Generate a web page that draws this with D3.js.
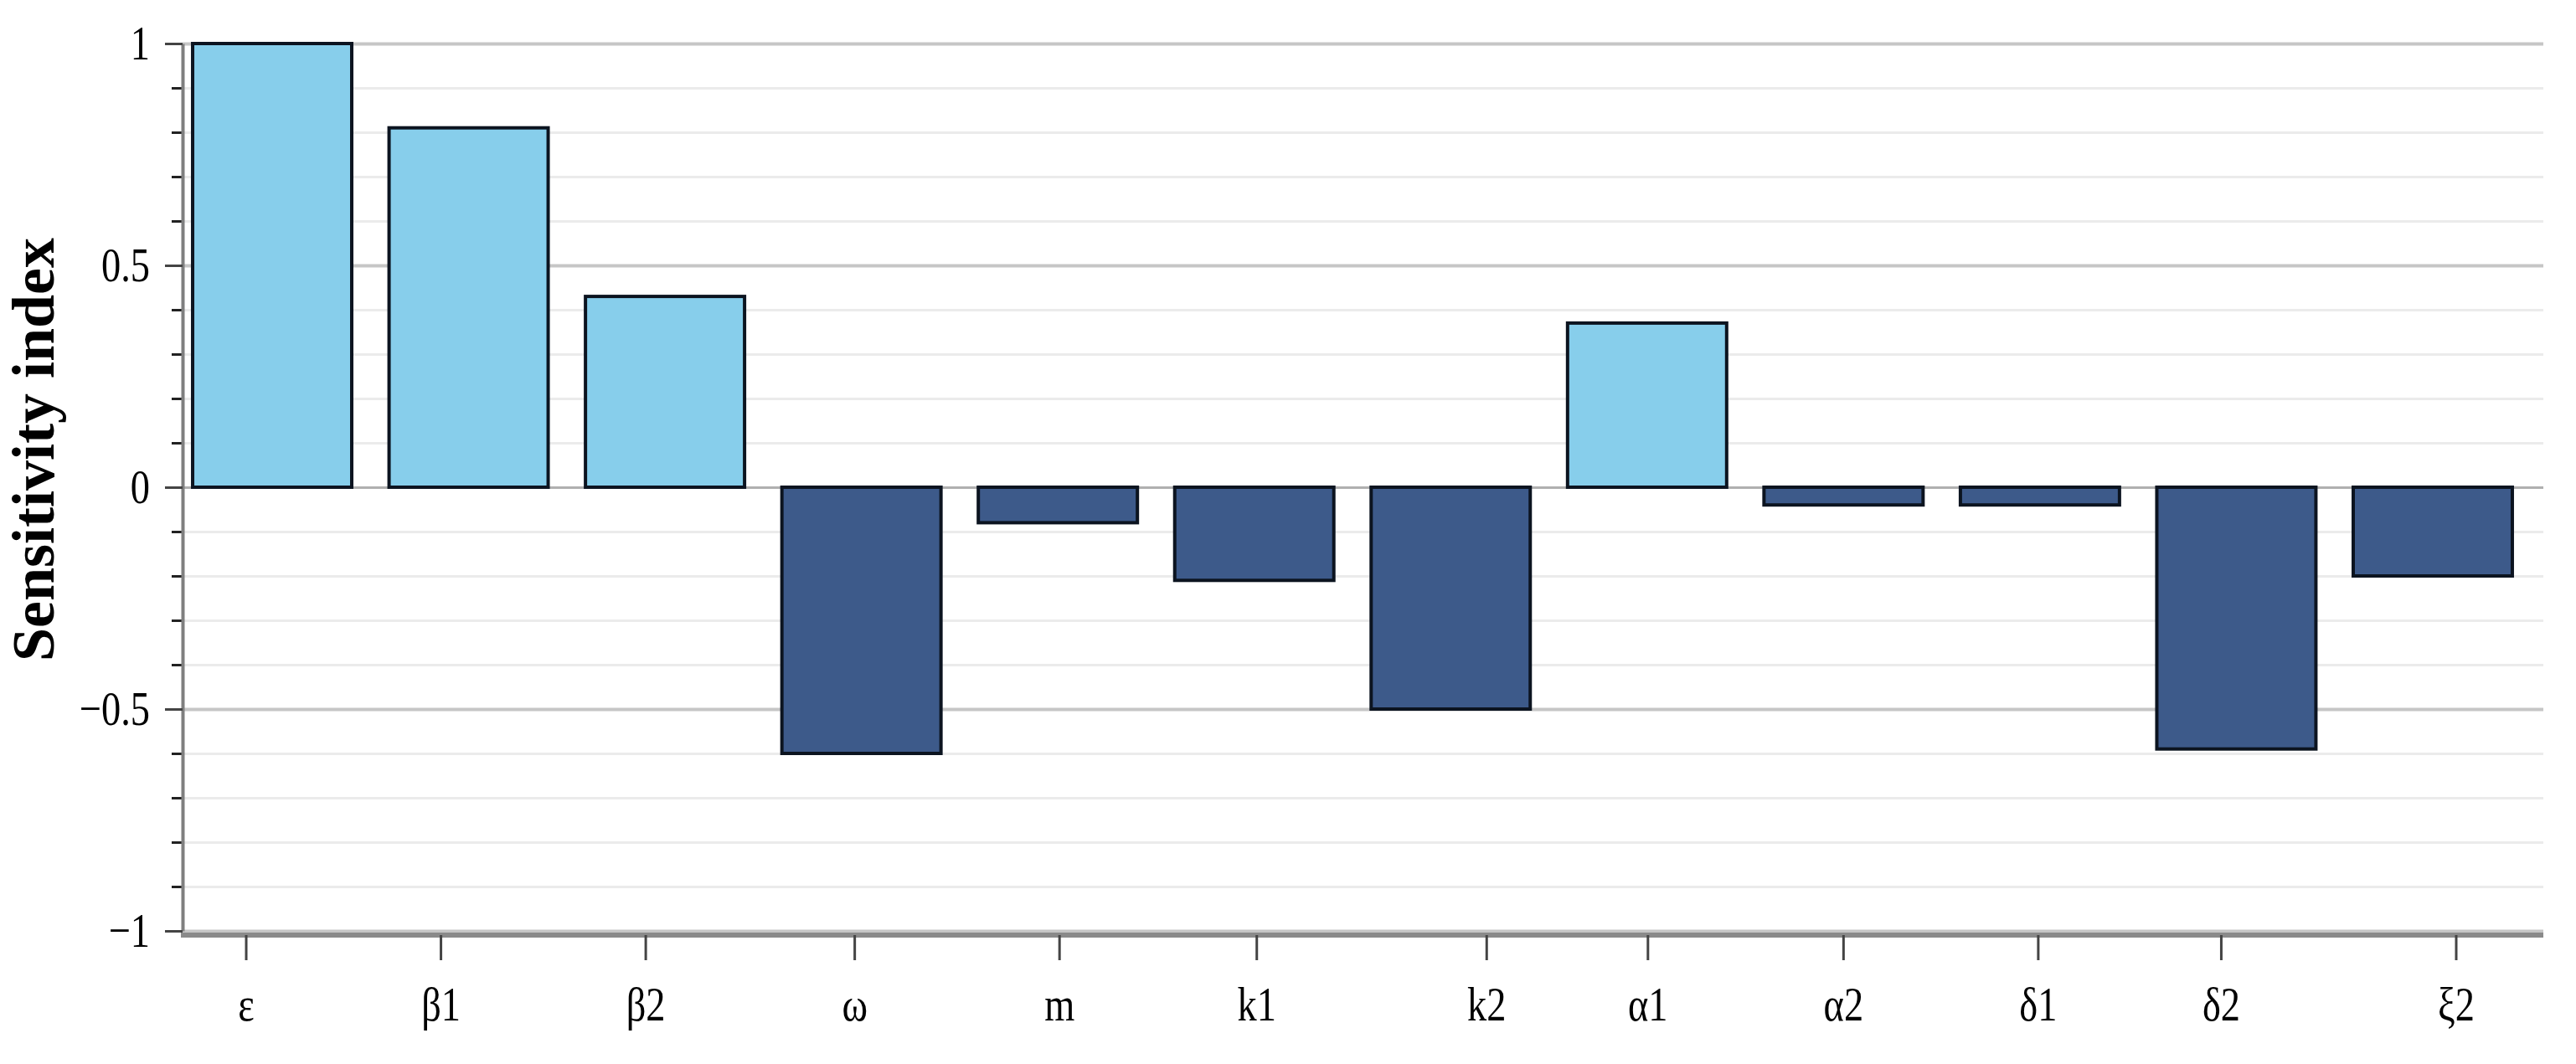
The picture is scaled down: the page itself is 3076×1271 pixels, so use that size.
<!DOCTYPE html>
<html>
<head>
<meta charset="utf-8">
<script src="https://cdn.jsdelivr.net/npm/d3@7"></script>
<style>
  body { margin: 0; background: #fff; }
  svg { display: block; }
  text { font-family: "Liberation Serif", "DejaVu Serif", serif; fill: #000; }
</style>
</head>
<body>
<svg id="chart"></svg>
<script>
// Data
const params = ["ε", "β1", "β2", "ω", "m", "k1", "k2", "α1", "α2", "δ1", "δ2", "ξ2"];
const sensitivity = [1.0, 0.81, 0.43, -0.6, -0.08, -0.21, -0.5, 0.37, -0.04, -0.04, -0.59, -0.2];
const yTickValues = [-1, -0.5, 0, 0.5, 1];
const yTickLabels = ["−1", "−0.5", "0", "0.5", "1"];
const yTitle = "Sensitivity index";

// the category labels in the source sit a little off the bar centres
const labelNudge = [-31, -33, -23, -8, 2, 3, 43, 1, 0, -2, -18, 28];

const W = 3076, H = 1271;
const plot = { left: 218, right: 3037, top: 52, bottom: 1112 };
const squeeze = 0.8; // tick labels look horizontally condensed

const svg = d3.select("#chart").attr("width", W).attr("height", H);

const x = d3.scaleBand()
  .domain(params)
  .range([207.75, 3022.25])
  .paddingInner(0.19)
  .paddingOuter(0.095);

const y = d3.scaleLinear()
  .domain([-1, 1])
  .range([plot.bottom, plot.top]);

const isMajor = v => yTickValues.some(t => Math.abs(t - v) < 1e-9);
const minorValues = y.ticks(20).filter(v => !isMajor(v));

// Minor grid lines
svg.append("g")
  .attr("transform", `translate(${plot.left},0)`)
  .call(d3.axisRight(y).tickValues(minorValues).tickSize(plot.right - plot.left).tickFormat(""))
  .call(g => g.select(".domain").remove())
  .selectAll("line")
  .attr("stroke", "#ebebeb")
  .attr("stroke-width", 3);

// Major grid lines
svg.append("g")
  .attr("transform", `translate(${plot.left},0)`)
  .call(d3.axisRight(y).tickValues(yTickValues).tickSize(plot.right - plot.left).tickFormat(""))
  .call(g => g.select(".domain").remove())
  .selectAll("line")
  .attr("stroke", d => d === 0 ? "#b0b0b0" : "#c6c6c6")
  .attr("stroke-width", d => d === 0 ? 3 : 4);

// Bars
svg.selectAll(".bar")
  .data(params)
  .enter()
  .append("rect")
  .attr("class", "bar")
  .attr("x", d => x(d))
  .attr("width", x.bandwidth())
  .attr("y", (d, i) => y(Math.max(0, sensitivity[i])))
  .attr("height", (d, i) => Math.abs(y(sensitivity[i]) - y(0)))
  .attr("fill", (d, i) => sensitivity[i] >= 0 ? "#87ceeb" : "#3d5a8a")
  .attr("stroke", "#0c1420")
  .attr("stroke-width", 4);

// Y axis: minor ticks
svg.append("g")
  .attr("transform", `translate(${plot.left},0)`)
  .call(d3.axisLeft(y).tickValues(minorValues).tickSize(13).tickFormat(""))
  .call(g => g.select(".domain").remove())
  .selectAll("line")
  .attr("stroke", "#222")
  .attr("stroke-width", 3);

// Y axis: major ticks + labels
svg.append("g")
  .attr("transform", `translate(${plot.left},0)`)
  .call(d3.axisLeft(y)
    .tickValues(yTickValues)
    .tickFormat(d => yTickLabels[yTickValues.indexOf(d)])
    .tickSize(21)
    .tickSizeOuter(0)
    .tickPadding(18))
  .call(g => g.select(".domain").attr("stroke", "#7f7f7f").attr("stroke-width", 4))
  .call(g => g.selectAll(".tick line").attr("stroke", "#444").attr("stroke-width", 3))
  .call(g => g.selectAll(".tick text")
    .attr("x", -39 / squeeze)
    .attr("transform", `scale(${squeeze},1)`)
    .style("font-size", "58px"));

// X axis
const xAxisY = plot.bottom + 5;
svg.append("line")
  .attr("x1", plot.left - 2)
  .attr("x2", plot.right)
  .attr("y1", xAxisY)
  .attr("y2", xAxisY)
  .attr("stroke", "#8a8a8a")
  .attr("stroke-width", 6);

svg.append("g")
  .attr("transform", `translate(0,${xAxisY})`)
  .call(d3.axisBottom(x).tickSize(30).tickSizeOuter(0))
  .call(g => g.select(".domain").remove())
  .call(g => g.selectAll(".tick")
    .attr("transform", (d, i) => `translate(${x(d) + x.bandwidth() / 2 + labelNudge[i]},0)`))
  .call(g => g.selectAll(".tick line").attr("stroke", "#444").attr("stroke-width", 3))
  .call(g => g.selectAll(".tick text")
    .attr("y", 102)
    .attr("dy", 0)
    .attr("transform", `scale(${squeeze},1)`)
    .style("font-size", "58px"));

// Y axis title
svg.append("text")
  .attr("transform", `translate(64,537) rotate(-90)`)
  .attr("text-anchor", "middle")
  .style("font-size", "72px")
  .style("font-weight", "700")
  .text(yTitle);
</script>
</body>
</html>
